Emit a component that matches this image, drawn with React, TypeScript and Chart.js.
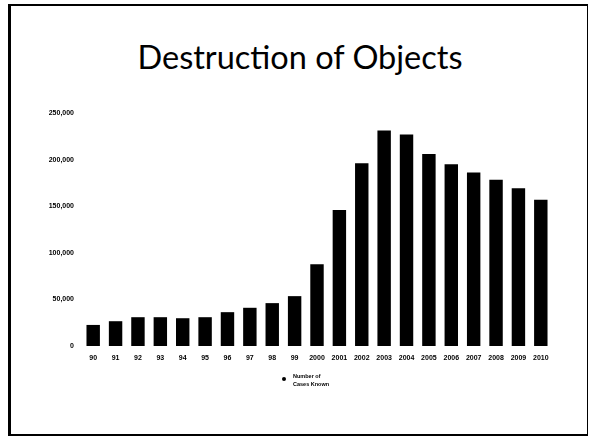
import React, { useEffect, useRef } from "react";
import { Chart, registerables } from "chart.js";

Chart.register(...registerables);

const categories = ["90", "91", "92", "93", "94", "95", "96", "97", "98", "99", "2000", "2001", "2002", "2003", "2004", "2005", "2006", "2007", "2008", "2009", "2010"];
const cases = [22600, 26600, 30900, 30900, 29800, 30900, 36300, 41000, 46000, 53500, 87600, 145800, 196100, 231300, 227000, 206100, 195000, 186100, 178500, 169200, 157000];
const seriesLabel = "Number of Cases Known";
const legendLines = ["Number of", "Cases Known"];
const titleText = "Destruction of Objects";

export default function App() {
  const ref = useRef<HTMLCanvasElement | null>(null);
  useEffect(() => {
    const ctx = ref.current;
    if (!ctx) return;
    const tickFont = { family: "'Liberation Sans', Arial, sans-serif", size: 7, weight: "bold" as const };
    const chart = new Chart(ctx, {
      type: "bar",
      data: {
        labels: categories,
        datasets: [
          {
            label: seriesLabel,
            data: cases,
            backgroundColor: "#000000",
            borderWidth: 0,
            categoryPercentage: 1,
            barPercentage: 0.6,
          },
        ],
      },
      options: {
        animation: false,
        responsive: false,
        maintainAspectRatio: false,
        layout: { padding: { top: 113, right: 37, bottom: 71, left: 0 } },
        plugins: {
          legend: { display: false },
          title: { display: false },
          tooltip: { enabled: false },
        },
        scales: {
          x: {
            grid: { display: false },
            border: { display: false },
            ticks: { color: "#000", font: tickFont, padding: 0, maxRotation: 0, autoSkip: false },
            afterFit: (s: any) => {
              s.height = 20;
            },
          },
          y: {
            min: 0,
            max: 250000,
            grid: { display: false },
            border: { display: false },
            ticks: {
              stepSize: 50000,
              color: "#000",
              font: tickFont,
              padding: 0,
              callback: (v: any) => Number(v).toLocaleString("en-US"),
            },
            afterFit: (s: any) => {
              s.width = 82;
            },
          },
        },
      },
    });
    return () => chart.destroy();
  }, []);

  return (
    <div style={{ position: "absolute", left: 0, top: 0, width: 589, height: 437, background: "#fff", overflow: "hidden" }}>
      <div
        style={{
          position: "absolute",
          left: 8,
          top: 4,
          width: 576,
          height: 428,
          borderLeft: "3px solid #000",
          borderTop: "2px solid #000",
          borderRight: "1px solid #000",
          borderBottom: "2px solid #000",
        }}
      />
      <div
        style={{
          position: "absolute",
          left: 0,
          top: 36,
          width: 600,
          textAlign: "center",
          fontFamily: "Lato, 'Open Sans', sans-serif",
          fontSize: 32.5,
          lineHeight: "42px",
          color: "#000",
        }}
      >
        {titleText}
      </div>
      <canvas ref={ref} width={589} height={437} style={{ position: "absolute", left: 0, top: 0, width: 589, height: 437 }} />
      <div style={{ position: "absolute", left: 282, top: 377, width: 4, height: 4, borderRadius: 2, background: "#000" }} />
      <div
        style={{
          position: "absolute",
          left: 293,
          top: 372,
          fontFamily: "'Liberation Sans', Arial, sans-serif",
          fontWeight: "bold",
          fontSize: 5.5,
          lineHeight: "8px",
          color: "#000",
        }}
      >
        {legendLines.map((l, i) => (
          <div key={i}>{l}</div>
        ))}
      </div>
    </div>
  );
}
